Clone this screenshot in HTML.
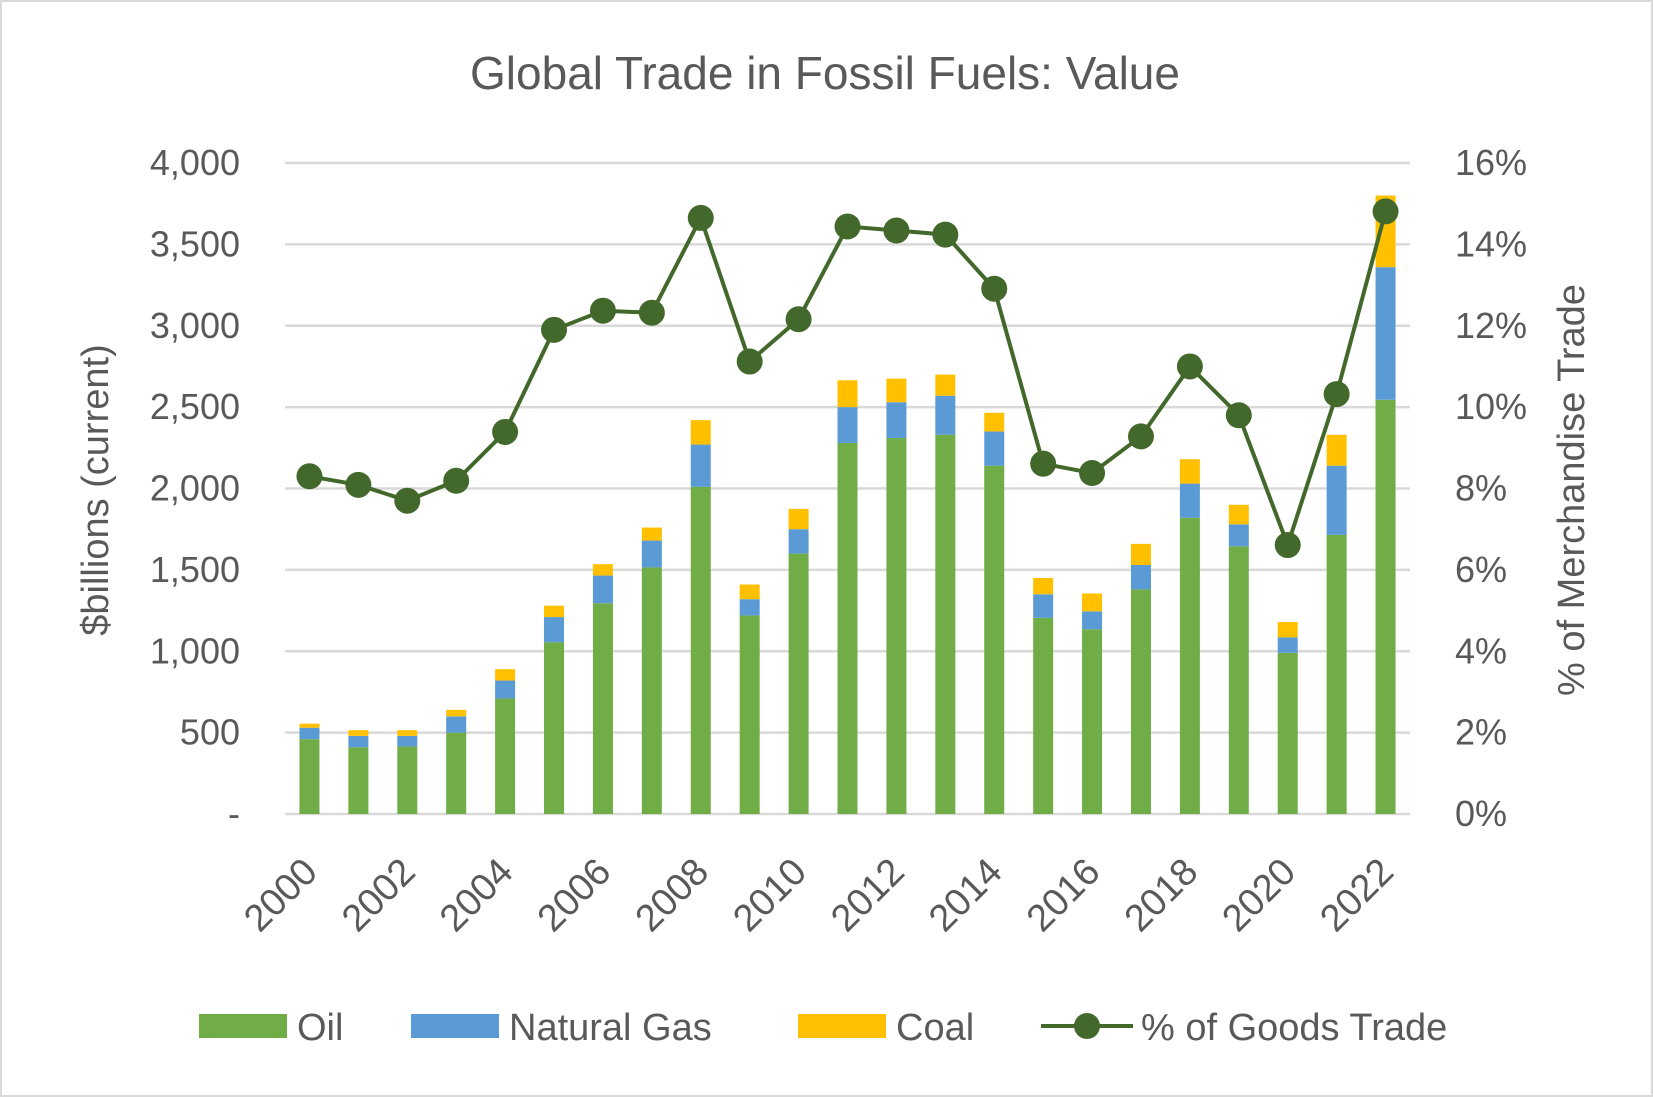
<!DOCTYPE html>
<html><head><meta charset="utf-8"><style>
html,body{margin:0;padding:0;background:#fff;}
svg{display:block;font-family:"Liberation Sans",sans-serif;}
</style></head><body>
<svg id="chart" width="1653" height="1097" viewBox="0 0 1653 1097">
<rect x="1" y="1" width="1651" height="1095" fill="#fff" stroke="#d9d9d9" stroke-width="2"/>
<text x="825" y="89" text-anchor="middle" font-size="46" fill="#595959">Global Trade in Fossil Fuels: Value</text>
<g id="grid"></g><g id="bars"></g><g id="line"></g><g id="axes"></g>
<text transform="translate(108,490) rotate(-90)" text-anchor="middle" font-size="38" fill="#595959">$billions (current)</text>
<text transform="translate(1584,490) rotate(-90)" text-anchor="middle" font-size="38" fill="#595959">% of Merchandise Trade</text>
<g font-size="38" fill="#595959">
<g><rect x="199" y="1014" width="88" height="24" fill="#70ad47"/><text x="297" y="1040">Oil</text></g>
<g><rect x="411" y="1014" width="88" height="24" fill="#5b9bd5"/><text x="509" y="1040">Natural Gas</text></g>
<g><rect x="798" y="1014" width="88" height="24" fill="#ffc000"/><text x="896" y="1040">Coal</text></g>
<g><line x1="1041" y1="1026" x2="1133" y2="1026" stroke="#43682b" stroke-width="4"/><circle cx="1087" cy="1026" r="13" fill="#43682b"/><text x="1141" y="1040">% of Goods Trade</text></g>
</g>
</svg>
<script>
const years=[2000,2001,2002,2003,2004,2005,2006,2007,2008,2009,2010,2011,2012,2013,2014,2015,2016,2017,2018,2019,2020,2021,2022];
const oil=[460,410,415,500,710,1055,1295,1515,2010,1220,1600,2280,2310,2330,2140,1205,1135,1380,1820,1645,990,1715,2545];
const gas=[70,70,65,100,110,155,170,165,260,100,150,220,220,240,210,145,110,150,210,135,95,425,815];
const coal=[25,35,35,40,70,70,70,80,150,90,125,165,145,130,115,100,110,130,150,120,95,190,440];
const pct=[8.30,8.09,7.70,8.19,9.39,11.90,12.37,12.32,14.65,11.12,12.16,14.44,14.34,14.24,12.91,8.61,8.38,9.28,11.0,9.80,6.61,10.32,14.81];
const yTicks=[0,500,1000,1500,2000,2500,3000,3500,4000];
const yLabels=["-","500","1,000","1,500","2,000","2,500","3,000","3,500","4,000"];
const y2Ticks=[0,2,4,6,8,10,12,14,16];
const NS="http://www.w3.org/2000/svg";
const X0=285,X1=1410,Y0=814,Y1=163;
const step=(X1-X0)/years.length;
const xc=i=>X0+step*(i+0.5);
const y=v=>Y0-(v/4000)*(Y0-Y1);
const y2=v=>Y0-(v/16)*(Y0-Y1);
function mk(tag,attrs,parent){const e=document.createElementNS(NS,tag);for(const k in attrs)e.setAttribute(k,attrs[k]);document.getElementById(parent).appendChild(e);return e;}
yTicks.forEach((t,i)=>{
  const g=mk('line',{x1:X0,x2:X1,y1:y(t),y2:y(t),stroke:'#d9d9d9','stroke-width':2.5},'grid');
  
  
  const l=mk('text',{x:240,y:y(t)+12,'text-anchor':'end','font-size':36,fill:'#595959'},'axes');
  l.textContent=yLabels[i];
  
  
});
y2Ticks.forEach(t=>{
  const l=mk('text',{x:1455,y:y2(t)+12,'font-size':36,fill:'#595959'},'axes');
  l.textContent=t+'%';
  
  
});
const bw=20;
years.forEach((yr,i)=>{
  const x=xc(i)-bw/2;
  let base=0;
  [[oil,'#70ad47','oil'],[gas,'#5b9bd5','gas'],[coal,'#ffc000','coal']].forEach(([arr,col,nm])=>{
    const r=mk('rect',{x:x,width:bw,y:y(base+arr[i]),height:y(base)-y(base+arr[i]),fill:col},'bars');
    
    
    base+=arr[i];
  });
  if(i%2===0){
    const t=mk('text',{transform:`translate(${xc(i)+10},${Y0+60}) rotate(-45)`,'text-anchor':'end','font-size':38,fill:'#595959'},'axes');
    t.textContent=yr;
    
    
  }
});
const pts=pct.map((p,i)=>xc(i)+','+y2(p)).join(' ');
const pl=mk('polyline',{points:pts,fill:'none',stroke:'#43682b','stroke-width':4,'stroke-linejoin':'round'},'line');


pct.forEach((p,i)=>{
  const c=mk('circle',{cx:xc(i),cy:y2(p),r:13,fill:'#43682b'},'line');
  
  
});
</script>
</body></html>
